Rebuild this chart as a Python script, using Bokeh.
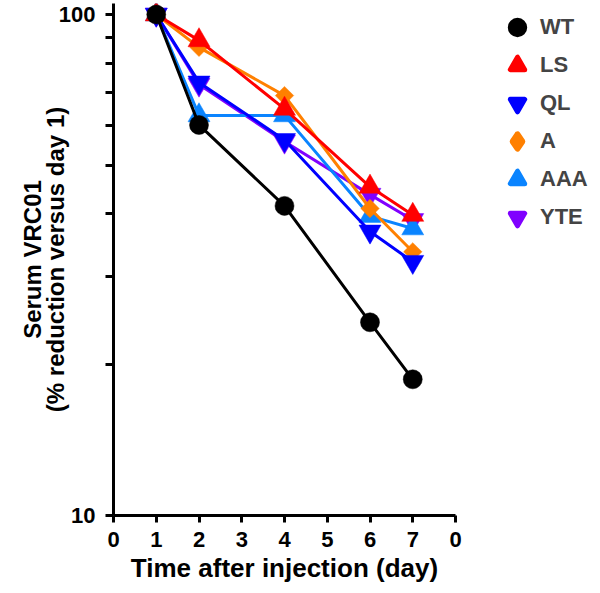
import math
from bokeh.plotting import figure
from bokeh.models import FixedTicker, Range1d, Legend, LegendItem
from bokeh.embed import file_html
from bokeh.resources import INLINE

# ---- data ----
days = [1, 2, 4, 6, 7]
wt = [100, 60.2, 41.5, 24.3, 18.7]
ls = [100, 88.8, 64.8, 45.3, 39.8]
ql = [100, 73.2, 56.2, 36.9, 32.1]
a_ = [100, 86.0, 68.9, 41.0, 33.6]
aaa = [100, 62.9, 62.9, 39.6, 37.4]
yte = [100, 72.5, 55.8, 43.7, 38.9]

series_names = ["WT", "LS", "QL", "A", "AAA", "YTE"]
x_ticks = [0, 1, 2, 3, 4, 5, 6, 7, 8]
x_tick_labels = ["0", "1", "2", "3", "4", "5", "6", "7", "0"]
y_ticks = [10, 20, 30, 40, 50, 60, 70, 80, 90, 100]
y_tick_labels = ["10", "", "", "", "", "", "", "", "", "100"]

FONT = "Liberation Sans"

p = figure(width=598, height=591, output_backend="svg", toolbar_location=None,
           y_axis_type="log", x_range=Range1d(0, 8), y_range=Range1d(10, 105.2),
           min_border_left=113, min_border_right=143, min_border_top=3,
           min_border_bottom=76, frame_width=342, frame_height=512)
p.outline_line_color = None
p.xgrid.visible = False
p.ygrid.visible = False
p.background_fill_color = "white"
p.border_fill_color = "white"

styles = {
    "WT":  dict(y=wt,  color="#000000", marker="circle", size=19, angle=0,
                leg_marker="circle", leg_lw=5),
    "LS":  dict(y=ls,  color="#FF0000", marker="triangle", size=22, angle=0,
                leg_marker="triangle", leg_lw=5),
    "QL":  dict(y=ql,  color="#0000FF", marker="inverted_triangle", size=22, angle=0,
                leg_marker="inverted_triangle", leg_lw=5),
    "A":   dict(y=a_,  color="#FF8000", marker="square", size=13, angle=math.pi / 4,
                leg_marker="diamond", leg_lw=6),
    "AAA": dict(y=aaa, color="#0A84FF", marker="triangle", size=22, angle=0,
                leg_marker="triangle", leg_lw=5),
    "YTE": dict(y=yte, color="#8000FF", marker="inverted_triangle", size=22, angle=0,
                leg_marker="inverted_triangle", leg_lw=5),
}

# key glyphs: tiny markers drawn first (hidden under the real markers); their
# outline width shapes the legend symbols
legend_renderers = {}
for name in series_names:
    s = styles[name]
    legend_renderers[name] = p.scatter(days, s["y"], marker=s["leg_marker"], size=1,
                                       fill_color=s["color"], line_color=s["color"],
                                       line_width=s["leg_lw"], line_join="round")

draw_order = ["YTE", "AAA", "A", "QL", "LS", "WT"]
for name in draw_order:
    s = styles[name]
    p.line(days, s["y"], line_color=s["color"], line_width=3)
    p.scatter(days, s["y"], marker=s["marker"], size=s["size"], angle=s["angle"],
              fill_color=s["color"], line_color=s["color"], line_width=0.5)

# axes
for ax in (p.xaxis[0], p.yaxis[0]):
    ax.axis_line_width = 3
    ax.axis_line_color = "black"
    ax.major_tick_line_width = 3
    ax.major_tick_line_color = "black"
    ax.minor_tick_line_color = None
    ax.major_tick_in = 0
    ax.major_tick_out = 7
    ax.major_label_text_font = FONT
    ax.major_label_text_font_style = "bold"
    ax.major_label_text_font_size = "22px"
    ax.major_label_text_color = "black"
    ax.axis_label_text_font = FONT
    ax.axis_label_text_font_style = "bold"
    ax.axis_label_text_color = "black"

p.xaxis.ticker = FixedTicker(ticks=x_ticks)
p.xaxis.major_label_overrides = dict(zip(x_ticks, x_tick_labels))
p.xaxis.axis_label = "Time after injection (day)"
p.xaxis.axis_label_text_font_size = "26px"
p.xaxis.major_label_standoff = 9
p.xaxis.axis_label_standoff = 3

p.yaxis.ticker = FixedTicker(ticks=y_ticks)
p.yaxis.major_label_overrides = dict(zip(y_ticks, y_tick_labels))
p.yaxis.major_tick_out = 8
p.yaxis.axis_label = "Serum VRC01\n(% reduction versus day 1)"
p.yaxis.axis_label_text_font_size = "24px"
p.yaxis.axis_label_text_line_height = 0.85
p.yaxis.major_label_standoff = 10
p.yaxis.axis_label_standoff = -13

legend = Legend(items=[LegendItem(label=n, renderers=[legend_renderers[n]]) for n in series_names],
                location=(44, 280), padding=0, spacing=2, glyph_width=36, glyph_height=36,
                label_height=26, label_standoff=5, border_line_color=None,
                background_fill_alpha=0, label_text_font=FONT, label_text_font_style="bold",
                label_text_font_size="22px", margin=0)
p.add_layout(legend, "right")

open("out.html", "w").write(file_html(p, INLINE))
